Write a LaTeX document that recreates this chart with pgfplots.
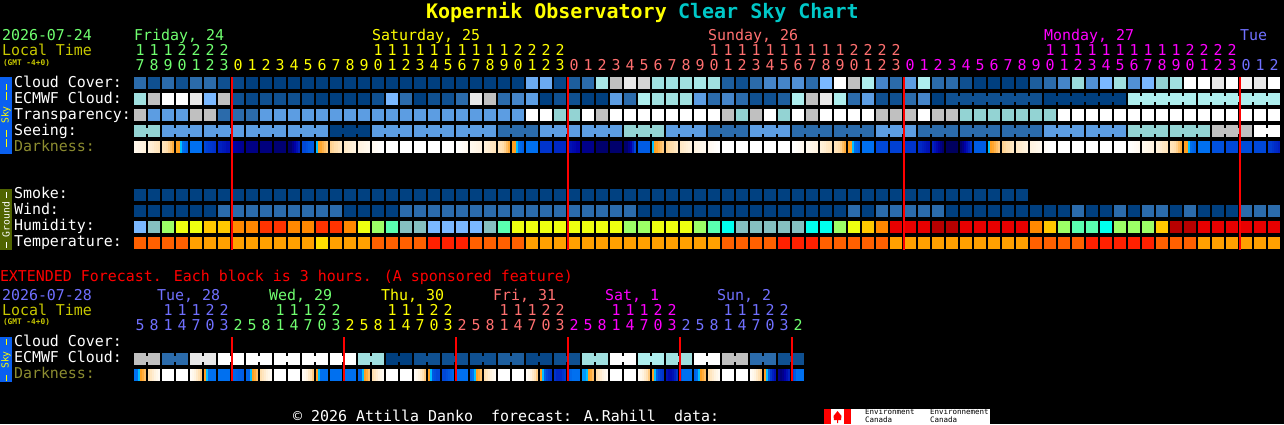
\documentclass[border=0pt]{standalone}
\usepackage{fontspec}
\setmainfont{DejaVu Sans Mono}
\usepackage{pgfplots}
\usepackage{pgfplotstable}
\pgfplotsset{compat=1.18}
\definecolor{cFri}{HTML}{70FF70}
\definecolor{cSat}{HTML}{FFFF00}
\definecolor{cSun}{HTML}{FF7070}
\definecolor{cMon}{HTML}{FF00FF}
\definecolor{cTue}{HTML}{7070FF}
\definecolor{cLoc}{HTML}{C8C800}
\definecolor{cDrk}{HTML}{8C8C30}
\definecolor{cTtl}{HTML}{00C8C8}
\definecolor{cSky}{HTML}{0A60F0}
\definecolor{cGnd}{HTML}{506400}
\pgfdeclareplotmark{blk}{\pgfpathrectangle{\pgfpoint{-6pt}{-6pt}}{\pgfpoint{12pt}{12pt}}\pgfusepathqfill}
\pgfdeclareplotmark{brg}{\pgfpathrectangle{\pgfpoint{-1.1pt}{-3pt}}{\pgfpoint{2.2pt}{6pt}}\pgfusepathqfill}
\pgfdeclareplotmark{dks}{\pgfpathrectangle{\pgfpoint{-1pt}{-6pt}}{\pgfpoint{2.05pt}{12pt}}\pgfusepathqfill}
\pgfplotstableread{
c cloud ecmwf trans seeing wind hum temp sb eb
0 2 7 9 6 0 0 2 1 0
1 1 9 4 6 0 1 2 0 0
2 2 11 4 4 0 4 2 1 0
3 1 11 4 4 0 5 2 1 0
4 2 10 9 4 0 5 1 0 0
5 2 5 9 4 0 6 1 1 0
6 1 9 2 4 2 6 1 1 0
7 0.5 1 2 4 2 7 1 0 0
8 0 0.5 2 4 2 7 1 1 0
9 0 1 4 4 2 8 1 1 0
10 0 1 4 4 2 8 1 0 0
11 0 1 4 4 2 7 1 1 0
12 0 0.5 4 4 2 7 1 1 0
13 0 0 4 4 2 8 0 0 0
14 0 0 4 0 2 8 1 1 0
15 0 0 4 0 0 7 1 1 0
16 0 0 4 0 0 5 1 0 0
17 0 1 4 4 0 4 2 1 0
18 0 5 4 4 0 3 2 1 0
19 0 2 4 4 2 1 2 0 0
20 0 0 4 4 2 1 2 1 0
21 0 1 4 4 2 0 3 1 0
22 0 1 4 4 2 0 3 0 0
23 0 2 4 4 2 0 3 1 0
24 0 10 4 4 2 0 2 1 0
25 0 9 4 4 2 1 2 0 0
26 0 2 4 2 2 3 2 1 0
27 0 3 4 2 2 5 2 1 0
28 4.5 4 11 2 2 5 1 0 0
29 4.5 0 11 4 2 5 1 1 0
30 0.5 1 6 4 2 5 1 1 0
31 1.5 1 6 4 2 5 1 0 0
32 2 0 11 4 2 5 1 1 0
33 7.5 0 9 4 2 5 1 1 0
34 9 4 11 4 2 5 1 0 0
35 10 2 11 6 2 4 1 1 0
36 9.5 8 11 6 0 4 1 1 0
37 7 7 11 6 0 5 1 0 0
38 7 7 11 4 0 5 1 1 0
39 7 7 11 4 0 5 1 1 0
40 7.5 4 11 4 0 4 1 0 0
41 7 2 11 2 0 3 1 1 0
42 1.5 3 9 2 0 2 2 1 0
43 1 2 6 2 0 1 2 0 0
44 2 1 9 4 0 1 2 1 0
45 3 1 11 4 0 1 2 1 0
46 3 1.5 6 4 0 1 3 0 0
47 3.5 8 11 2 0 1 3 1 0
48 2 9 9 2 0 2 3 1 0
49 5 10 11 2 0 2 2 0 0
50 11 8 11 2 0 4 2 1 0
51 9 2 11 2 2 5 2 1 0
52 8 4 11 2 0 6 2 0 0
53 3 1 9 4 2 7 2 1 0
54 2 1 9 4 2 9 1 1 0
55 4 2 9 4 2 9 1 0 0
56 8 3 11 2 2 9 1 1 0
57 2 0 9 2 2 10 1 1 0
58 2 1 9 2 0 10 1 0 1
59 1 1 6 2 0 9 1 1 1
60 0 1 6 2 0 9 1 1 1
61 0 1 6 2 0 9 1 0 1
62 0 1 6 2 0 9 1 1 1
63 0 1 6 2 0 9 1 1 1
64 1.5 1 6 2 0 7 2 0 0
65 2 0 6 4 0 6 2 1 1
66 3 0 11 4 0 4 2 1 1
67 6.5 0 11 4 2 3 2 0 1
68 3.5 0 11 4 0 3 3 1 1
69 5 0 11 4 0 2 3 1 1
70 7 0 11 4 2 4 3 0 0
71 3.5 8 11 6 0 4 3 1 1
72 5 8 11 6 2 4 3 1 1
73 6 8 11 6 2 6 2 0 1
74 7 8 11 6 0 10 2 1 1
75 11 8 11 6 2 10 2 1 0
76 11 8 11 6 0 9 1 0 1
77 10 8 11 9 0 9 1 1 1
78 11 8 11 9 0 9 1 1 1
79 10.5 8 11 9 2 9 1 0 1
80 10 8 11 11 2 9 1 1 1
81 11 8 11 11 2 9 1 0 0
}\mainT
\pgfplotstableread{
c d0 d1 d2 d3 d4 d5
0 .6 .7 .8 .9 1 1.1
1 1.1 1.2 1.3 1.5 1.6 1.7
2 1.7 1.8 2 2.2 2.5 2.8
3 3 3 4 5 5.2 5.4
4 5 5 5 5 5 5
5 6 6.2 6.3 6.4 6.5 6.6
6 7 7 7.2 7.3 7.5 7.5
7 8 8 8.1 8.2 8.3 8.4
8 8.6 8.6 8.6 8.6 8.6 8.6
9 8.7 8.7 8.7 8.7 8.7 8.7
10 8.9 8.9 8.9 8.9 8.9 8.9
11 9 9 8.5 8 7.5 7
12 6 6 5.8 5.6 5.5 5.5
13 4 3 2.9 2.7 2.5 2.3
14 2.2 2.1 2 1.9 1.7 1.5
15 1.5 1.4 1.3 1.2 1.1 1
16 1 .9 .8 .7 .6 .5
17 .5 .4 .3 .2 .1 0
18 0 0 0 0 0 0
19 0 0 0 0 0 0
20 0 0 0 0 0 0
21 0 0 0 0 0 0
22 0 0 0 0 0 0
23 0 .1 .2 .3 .4 .5
24 .5 .6 .7 .8 .9 1
25 1.1 1.2 1.3 1.5 1.6 1.7
26 1.7 1.8 2 2.2 2.5 2.8
27 3 3 4 5 5.2 5.4
28 5 5 5 5 5 5
29 6.5 6.5 6.5 6.5 6.5 6.5
30 6.8 6.8 6.8 6.8 6.8 6.8
31 7.5 7.5 7.7 7.8 8 8
32 8.5 8.5 8.5 8.5 8.5 8.5
33 9 9 9 9 9 9
34 9 9 9 9 9 9
35 9 9 8.5 8 7 6
36 5.5 5.5 5.5 5.5 5.5 5.5
37 4 3 2.9 2.7 2.5 2.3
38 2.2 2.1 2 1.9 1.7 1.5
39 1.5 1.4 1.3 1.2 1.1 1
40 1 .9 .8 .7 .6 .5
41 .5 .4 .3 .2 .1 0
42 0 0 0 0 0 0
43 0 0 0 0 0 0
44 0 0 0 0 0 0
45 0 0 0 0 0 0
46 0 0 0 0 0 0
47 0 .1 .2 .3 .4 .5
48 .5 .6 .7 .8 .9 1
49 1.1 1.2 1.3 1.5 1.6 1.7
50 1.7 1.8 2 2.2 2.5 2.8
51 3 3 4 5 5.2 5.4
52 5 5 5 5 5 5
53 6 6 6 6 6 6
54 6.2 6.2 6.2 6.2 6.2 6.2
55 6.5 6.5 6.5 6.5 6.5 6.5
56 6.7 6.8 7 7.2 7.4 7.5
57 7 7.4 7.8 8.2 8.6 9
58 9.5 9.5 9.5 9.5 9.5 9.5
59 9 8.6 8 7.5 7 6.5
60 5.5 5.5 5.5 5.5 5.5 5.5
61 4 3 2.9 2.7 2.5 2.3
62 2.2 2.1 2 1.9 1.7 1.5
63 1.5 1.4 1.3 1.2 1.1 1
64 1 .9 .8 .7 .6 .5
65 .3 .2 .1 0 0 0
66 0 0 0 0 0 0
67 0 0 0 0 0 0
68 0 0 0 0 0 0
69 0 0 0 0 0 0
70 0 0 0 0 0 0
71 0 .1 .2 .3 .4 .5
72 .5 .6 .7 .8 .9 1
73 1.1 1.2 1.3 1.5 1.6 1.7
74 1.7 1.8 2 2.2 2.5 2.8
75 3 3 4 5 5.2 5.4
76 5 5 5 5 5 5
77 5.8 5.8 5.8 5.8 5.8 5.8
78 6 6 6 6 6 6
79 5.9 5.9 5.9 5.9 5.9 5.9
80 6 6 6 6 6 6
81 6.3 6.3 6.5 6.7 6.8 7
}\darkT
\pgfplotstableread{
e ec d0 d1 d2 d3 d4 d5 d6 d7 d8 d9 d10 d11 d12
0 9 5 5 4 3 2.8 2.5 2.2 1.9 1.6 1.3 1 .7 .4
1 2 0 0 0 0 0 0 0 0 0 0 0 0 0
2 10 .3 .6 1 1.4 1.8 2.3 2.8 3 4 5 5 5 5
3 11 5 5 5 5 5 5 5 5.2 5.2 5.3 5.4 5.4 5.5
4 11 5.3 5.3 4 3 2.8 2.5 2.2 1.9 1.6 1.3 1 .7 .4
5 11 0 0 0 0 0 0 0 0 0 0 0 0 0
6 11 .3 .6 1 1.4 1.8 2.3 2.8 3 4 5 5 5 5
7 11 5 5 5 5 5 5 5 5 5 5 5 5 5
8 7 5.3 5.3 4 3 2.8 2.5 2.2 1.9 1.6 1.3 1 .7 .4
9 0 0 0 0 0 0 0 0 0 0 0 0 0 0
10 1 .3 .6 1 1.4 1.8 2.3 2.8 3 4 5.6 5.8 6 6
11 1 6 6 5.8 5.6 5.4 5.2 5 5 5 5 5 5 5
12 1 5.3 5 4 3 2.8 2.5 2.2 1.9 1.6 1.3 1 .7 .4
13 1.5 0 0 0 0 0 0 0 0 0 0 0 0 0
14 0.5 .3 .6 1 1.4 1.8 2.3 2.8 3 4 5.5 6 6.3 6.5
15 1 6.5 6.8 6.8 6.8 6.5 6.3 6 5.6 5.2 5 5 5 5
16 7 4.5 4.5 4 3 2.8 2.5 2.2 1.9 1.6 1.3 1 .7 .4
17 11 0 0 0 0 0 0 0 0 0 0 0 0 0
18 8 .3 .6 1 1.4 1.8 2.3 2.8 3 4 5.5 6 6.3 6.5
19 7 7.5 7.8 7.8 7.5 7 6.5 6 5.5 5 5 5 5 5
20 11 5.3 5 4 3 2.8 2.5 2.2 1.9 1.6 1.3 1 .7 .4
21 9 0 0 0 0 0 0 0 0 0 0 0 0 0
22 2 .3 .6 1 1.4 1.8 2.3 2.8 3 4 5.5 6.5 7 7.5
23 1 8.5 8.8 8.5 8 7.5 7 6.5 6 5.5 5 5 5 5
}\extT
\begin{document}
\begin{tikzpicture}
\begin{axis}[
  scale only axis, width=1284pt, height=424pt,
  xmin=0, xmax=1284, ymin=0, ymax=424, y dir=reverse,
  axis lines=none, clip=true, clip mode=individual,
  axis background/.style={fill=black},
  point meta rel=per plot,
  scatter/use mapped color={draw=mapped color,fill=mapped color},
  colormap={cl}{rgb255=(0,63,127) rgb255=(15,80,145) rgb255=(43,107,171) rgb255=(69,133,201) rgb255=(92,157,226) rgb255=(122,184,255) rgb255=(147,211,211) rgb255=(160,224,224) rgb255=(174,238,238) rgb255=(192,192,192) rgb255=(232,232,232) rgb255=(255,255,255)},
  colormap={hm}{rgb255=(122,184,255) rgb255=(133,192,192) rgb255=(0,255,238) rgb255=(90,255,176) rgb255=(156,255,102) rgb255=(238,255,16) rgb255=(255,200,0) rgb255=(255,136,0) rgb255=(255,51,0) rgb255=(232,0,0) rgb255=(184,0,0)},
  colormap={tp}{rgb255=(255,221,0) rgb255=(255,160,0) rgb255=(255,96,0) rgb255=(255,32,0)},
  colormap={dk}{rgb255=(255,255,255) rgb255=(255,243,224) rgb255=(255,221,170) rgb255=(255,160,32) rgb255=(0,192,255) rgb255=(0,112,240) rgb255=(0,72,216) rgb255=(0,32,192) rgb255=(0,0,168) rgb255=(0,0,108) rgb255=(0,0,80)},
]
% --- main block rows
\newcommand\blockrow[6]{\addplot[scatter, only marks, mark=blk, scatter src=explicit, colormap name=#3, point meta min=0, point meta max=#4, #5] table[x expr=\thisrow{c}*14+140, y expr=#2, meta=#1]{\mainT};}
\blockrow{cloud}{83}{cl}{11}{}{}
\blockrow{ecmwf}{99}{cl}{11}{}{}
\blockrow{trans}{115}{cl}{11}{}{}
\blockrow{seeing}{131}{cl}{11}{}{}
\blockrow{wind}{211}{cl}{11}{}{}
\blockrow{hum}{227}{hm}{10}{}{}
\blockrow{temp}{243}{tp}{3}{}{}
% smoke: forecast ends after column 63
\addplot[scatter, only marks, mark=blk, scatter src=explicit, colormap name=cl, point meta min=0, point meta max=11, restrict x to domain=130:1030] table[x expr=\thisrow{c}*14+140, y expr=195, meta expr=0.1]{\mainT};
% joined blocks
\addplot[scatter, only marks, mark=brg, scatter src=explicit, colormap name=cl, point meta min=0, point meta max=11, restrict expr to domain={\thisrow{sb}}{0.5:1.5}] table[x expr=\thisrow{c}*14+147, y expr=131, meta=seeing]{\mainT};
\addplot[scatter, only marks, mark=brg, scatter src=explicit, colormap name=cl, point meta min=0, point meta max=11, restrict expr to domain={\thisrow{eb}}{0.5:1.5}] table[x expr=\thisrow{c}*14+147, y expr=99, meta=ecmwf]{\mainT};
% darkness row
\pgfplotsinvokeforeach{0,...,5}{
\addplot[scatter, only marks, mark=dks, scatter src=explicit, colormap name=dk, point meta min=0, point meta max=10] table[x expr=\thisrow{c}*14+135+2*#1, y expr=147, meta=d#1]{\darkT};
}
% extended ECMWF
\addplot[scatter, only marks, mark=blk, scatter src=explicit, colormap name=cl, point meta min=0, point meta max=11] table[x expr=\thisrow{e}*28+140, y expr=359, meta=ec]{\extT};
\addplot[scatter, only marks, mark=blk, scatter src=explicit, colormap name=cl, point meta min=0, point meta max=11] table[x expr=\thisrow{e}*28+154, y expr=359, meta=ec]{\extT};
\addplot[scatter, only marks, mark=brg, scatter src=explicit, colormap name=cl, point meta min=0, point meta max=11] table[x expr=\thisrow{e}*28+147, y expr=359, meta=ec]{\extT};
% extended darkness (two 12-wide sub-blocks in each block)
\pgfplotsinvokeforeach{0,1,2,3,4,5,7,8,9,10,11,12}{
\addplot[scatter, only marks, mark=dks, scatter src=explicit, colormap name=dk, point meta min=0, point meta max=10] table[x expr=\thisrow{e}*28+135+2*#1, y expr=375, meta=d#1]{\extT};
}
% red day lines
\addplot[red, line width=2pt, no marks] coordinates {(232,77)(232,250)};
\addplot[red, line width=2pt, no marks] coordinates {(568,77)(568,250)};
\addplot[red, line width=2pt, no marks] coordinates {(904,77)(904,250)};
\addplot[red, line width=2pt, no marks] coordinates {(1240,77)(1240,250)};
\addplot[red, line width=2pt, no marks] coordinates {(232,337)(232,381)};
\addplot[red, line width=2pt, no marks] coordinates {(344,337)(344,381)};
\addplot[red, line width=2pt, no marks] coordinates {(456,337)(456,381)};
\addplot[red, line width=2pt, no marks] coordinates {(568,337)(568,381)};
\addplot[red, line width=2pt, no marks] coordinates {(680,337)(680,381)};
\addplot[red, line width=2pt, no marks] coordinates {(792,337)(792,381)};
\pgfplotsextra{
\def\fs{\fontsize{14.95}{15}\selectfont}
\tikzset{inner sep=0pt, outer sep=0pt}
\def\lb##1##2##3##4{\node[anchor=base west, text=##3, font=\fs] at (axis cs:##1,##2) {##4};}
\def\small##1##2##3{\node[anchor=base west, text=cLoc, font=\fontsize{7.8}{7.8}\selectfont\bfseries] at (axis cs:##1,##2) {##3};}
\def\dg##1##2##3##4{\node[anchor=base, text=##3, font=\fs] at (axis cs:##1,##2) {##4};}
% title
\node[anchor=base west, text=cSat, font=\fontsize{20}{20}\selectfont\bfseries] at (axis cs:426,18) {Kopernik Observatory};
\node[anchor=base west, text=cTtl, font=\fontsize{20}{20}\selectfont\bfseries] at (axis cs:678,18) {Clear Sky Chart};
% header
\lb{2}{40}{cFri}{2026-07-24}
\lb{2}{55}{cLoc}{Local Time}
\small{3}{65}{(GMT -4+0)}
\lb{134}{40}{cFri}{Friday, 24}
\lb{372}{40}{cSat}{Saturday, 25}
\lb{708}{40}{cSun}{Sunday, 26}
\lb{1044}{40}{cMon}{Monday, 27}
\lb{1240}{40}{cTue}{Tue}
% hour digits
\foreach \d [count=\i from 0] in {7,8,9,0,1,2,3}{\pgfmathsetmacro\x{140+14*\i}\dg{\x}{70}{cFri}{\d}}
\foreach \d [count=\i from 7] in {0,1,2,3,4,5,6,7,8,9,0,1,2,3,4,5,6,7,8,9,0,1,2,3}{\pgfmathsetmacro\x{140+14*\i}\dg{\x}{70}{cSat}{\d}}
\foreach \d [count=\i from 31] in {0,1,2,3,4,5,6,7,8,9,0,1,2,3,4,5,6,7,8,9,0,1,2,3}{\pgfmathsetmacro\x{140+14*\i}\dg{\x}{70}{cSun}{\d}}
\foreach \d [count=\i from 55] in {0,1,2,3,4,5,6,7,8,9,0,1,2,3,4,5,6,7,8,9,0,1,2,3}{\pgfmathsetmacro\x{140+14*\i}\dg{\x}{70}{cMon}{\d}}
\foreach \d [count=\i from 79] in {0,1,2}{\pgfmathsetmacro\x{140+14*\i}\dg{\x}{70}{cTue}{\d}}
\foreach \d [count=\i from 0] in {1,1,1,2,2,2,2}{\pgfmathsetmacro\x{140+14*\i}\dg{\x}{55}{cFri}{\d}}
\foreach \d [count=\i from 17] in {1,1,1,1,1,1,1,1,1,1,2,2,2,2}{\pgfmathsetmacro\x{140+14*\i}\dg{\x}{55}{cSat}{\d}}
\foreach \d [count=\i from 41] in {1,1,1,1,1,1,1,1,1,1,2,2,2,2}{\pgfmathsetmacro\x{140+14*\i}\dg{\x}{55}{cSun}{\d}}
\foreach \d [count=\i from 65] in {1,1,1,1,1,1,1,1,1,1,2,2,2,2}{\pgfmathsetmacro\x{140+14*\i}\dg{\x}{55}{cMon}{\d}}
% row labels
\lb{14}{87}{white}{Cloud Cover:}
\lb{14}{103}{white}{ECMWF Cloud:}
\lb{14}{119}{white}{Transparency:}
\lb{14}{135}{white}{Seeing:}
\lb{14}{151}{cDrk}{Darkness:}
\lb{14}{198.5}{white}{Smoke:}
\lb{14}{214.5}{white}{Wind:}
\lb{14}{230.5}{white}{Humidity:}
\lb{14}{246.5}{white}{Temperature:}
% side bars
\fill[cSky] (axis cs:0,77) rectangle (axis cs:12,154);
\fill[cGnd] (axis cs:0,189) rectangle (axis cs:12,250);
\fill[cSky] (axis cs:0,337) rectangle (axis cs:12,382);
\node[rotate=90, text=cSat, font=\fontsize{9.7}{9.7}\selectfont] at (axis cs:6,115) {Sky};
\node[rotate=90, text=white, font=\fontsize{9.7}{9.7}\selectfont] at (axis cs:6,219.5) {Ground};
\node[rotate=90, text=cSat, font=\fontsize{9.7}{9.7}\selectfont] at (axis cs:6,360) {Sky};
\foreach \a/\b in {84/90,92/100,130/137,139/147}{\draw[cSat, line width=1pt] (axis cs:6,\a) -- (axis cs:6,\b);}
\foreach \a/\b in {192/198,242/248}{\draw[white, line width=1pt] (axis cs:6,\a) -- (axis cs:6,\b);}
\foreach \a/\b in {339/345,375/381}{\draw[cSat, line width=1pt] (axis cs:6,\a) -- (axis cs:6,\b);}
% extended
\lb{0}{281}{red}{EXTENDED Forecast. Each block is 3 hours. (A sponsored feature)}
\lb{2}{300}{cTue}{2026-07-28}
\lb{2}{315}{cLoc}{Local Time}
\small{3}{324}{(GMT -4+0)}
\lb{157}{300}{cTue}{Tue, 28}
\lb{269}{300}{cFri}{Wed, 29}
\lb{381}{300}{cSat}{Thu, 30}
\lb{493}{300}{cSun}{Fri, 31}
\lb{605}{300}{cMon}{Sat, 1}
\lb{717}{300}{cTue}{Sun, 2}
\foreach \d [count=\i from 0] in {5,8,1,4,7,0,3}{\pgfmathsetmacro\x{140+14*\i}\dg{\x}{330}{cTue}{\d}}
\foreach \cc [count=\k from 0] in {cFri,cSat,cSun,cMon,cTue}{
  \foreach \d [count=\i from 0] in {2,5,8,1,4,7,0,3}{\pgfmathsetmacro\x{140+14*(7+8*\k+\i)}\dg{\x}{330}{\cc}{\d}}
}
\pgfmathsetmacro\x{140+14*47}\dg{\x}{330}{cFri}{2}
\foreach \cc [count=\k from 0] in {cTue,cFri,cSat,cSun,cMon,cTue}{
  \foreach \d [count=\i from 0] in {1,1,1,2,2}{\pgfmathsetmacro\x{140+14*(2+8*\k+\i)}\dg{\x}{315}{\cc}{\d}}
}
\lb{14}{346.5}{white}{Cloud Cover:}
\lb{14}{362}{white}{ECMWF Cloud:}
\lb{14}{378}{cDrk}{Darkness:}
% footer
\lb{293}{421}{white}{© 2026 Attilla Danko~~forecast: A.Rahill~~data:}
\fill[white] (axis cs:824,409) rectangle (axis cs:990,424);
\fill[red] (axis cs:824,409) rectangle (axis cs:831,424);
\fill[red] (axis cs:844,409) rectangle (axis cs:851,424);
\fill[red] (axis cs:837.5,411) -- (axis cs:841.5,416) -- (axis cs:841,420) -- (axis cs:838,420) -- (axis cs:838,423) -- (axis cs:837,423) -- (axis cs:837,420) -- (axis cs:834,420) -- (axis cs:833.5,416) -- cycle;
\node[anchor=base west, text=black, font=\fontsize{7.5}{7.5}\selectfont] at (axis cs:865,414.5) {Environment};
\node[anchor=base west, text=black, font=\fontsize{7.5}{7.5}\selectfont] at (axis cs:865,422) {Canada};
\node[anchor=base west, text=black, font=\fontsize{7.5}{7.5}\selectfont] at (axis cs:930,414.5) {Environnement};
\node[anchor=base west, text=black, font=\fontsize{7.5}{7.5}\selectfont] at (axis cs:930,422) {Canada};
}
\end{axis}
\end{tikzpicture}
\end{document}
